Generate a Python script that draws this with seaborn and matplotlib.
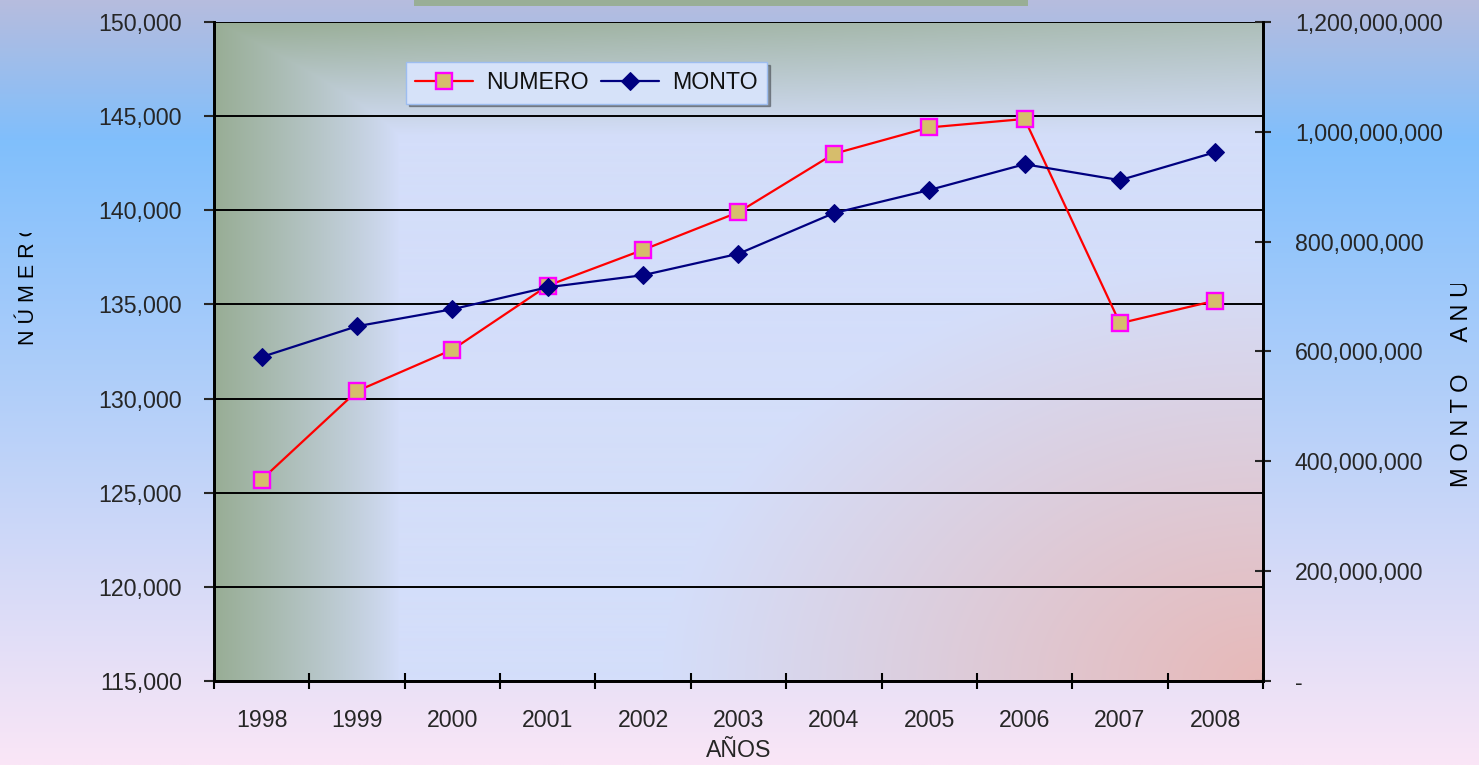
import numpy as np
import pandas as pd
import matplotlib
matplotlib.use("Agg")
import matplotlib.pyplot as plt
import seaborn as sns
from matplotlib.ticker import FuncFormatter, FixedLocator
from matplotlib.patches import Rectangle
from matplotlib.transforms import Bbox, TransformedBbox

# ---------------- data ----------------
years = [1998, 1999, 2000, 2001, 2002, 2003, 2004, 2005, 2006, 2007, 2008]
numero = [125700, 130400, 132600, 136000, 137900, 139900, 143000, 144400, 144850, 134000, 135200]
monto = [590e6, 646e6, 677e6, 717e6, 739e6, 778e6, 852e6, 894e6, 941e6, 912e6, 963e6]
left_ticks = [115000, 120000, 125000, 130000, 135000, 140000, 145000, 150000]
right_ticks = [0, 200e6, 400e6, 600e6, 800e6, 1000e6, 1200e6]
x_title = "AÑOS"
left_title = "N Ú M E R O"
right_title = "M O N T O     A N U A L"
series_names = ["NUMERO", "MONTO"]

df = pd.DataFrame({"year": years, "numero": numero, "monto": monto})

sns.set_style("ticks")
plt.rcParams["font.family"] = ["Liberation Sans", "DejaVu Sans"]

FS = 16.7
W_PX, H_PX = 1479, 765
fig = plt.figure(figsize=(W_PX / 100, H_PX / 100), dpi=100)

# ---------- figure background gradient ----------
bg_ax = fig.add_axes([0, 0, 1, 1])
bg_ax.set_zorder(-5)
yy = np.linspace(0, H_PX, 300)
stops_y = [0, 140, 765]
stops_c = np.array([[182, 188, 222], [128, 191, 252], [250, 230, 246]]) / 255
col = np.stack([np.interp(yy, stops_y, stops_c[:, i]) for i in range(3)], axis=-1)
bg_img = np.repeat(col[:, None, :], 4, axis=1)
bg_ax.imshow(bg_img, extent=[0, 1, 0, 1], aspect="auto", origin="upper")
bg_ax.set_axis_off()

# title box remnant at top
fig.patches.append(Rectangle((414 / W_PX, 1 - 6 / H_PX), (1028 - 414) / W_PX, 6 / H_PX,
                             transform=fig.transFigure, facecolor="#99ae96", edgecolor="none"))

# ---------- main axes ----------
L, R, T, B = 214, 1263, 22, 681
ax = fig.add_axes([L / W_PX, 1 - B / H_PX, (R - L) / W_PX, (B - T) / H_PX])
ax.set_zorder(1)
ax.patch.set_visible(False)

# plot-area gradient
PW, PH = R - L, B - T
xs = np.arange(PW)[None, :].astype(float)
ys = np.arange(PH)[:, None].astype(float)
base = np.array([212, 222, 250]) / 255
green = np.array([152, 173, 149]) / 255
pink = np.array([231, 185, 184]) / 255
wl = np.clip(1 - xs / 185, 0, 1) ** 0.85
wt = np.clip(1 - ys / 115, 0, 1) * (1 - 0.35 * xs / PW)
wg = np.maximum(wl, wt)[..., None]
img = base * (1 - wg) + green * wg
dist = np.sqrt(((PW - xs) / 600) ** 2 + ((PH - ys) / 420) ** 2)
wp = np.clip(1 - dist, 0, 1)[..., None]
img = img * (1 - wp) + pink * wp
ax.imshow(img, extent=[0, 1, 0, 1], transform=ax.transAxes, aspect="auto",
          origin="upper", zorder=0)

sns.lineplot(data=df, x="year", y="numero", ax=ax, color="#ff0000", lw=1.6,
             marker="s", markersize=11, markerfacecolor="#d6bd6c",
             markeredgecolor="#ff00ff", markeredgewidth=1.7, label=series_names[0],
             zorder=3)

ax2 = ax.twinx()
ax2.set_zorder(2)
ax2.patch.set_visible(False)
sns.lineplot(data=df, x="year", y="monto", ax=ax2, color="#000080", lw=1.6,
             marker="D", markersize=9, markerfacecolor="#000080",
             markeredgecolor="#000080", label=series_names[1], zorder=3)

# axes limits / ticks
ax.set_xlim(years[0] - 0.5, years[-1] + 0.5)
ax.set_ylim(left_ticks[0], left_ticks[-1])
ax2.set_ylim(right_ticks[0], right_ticks[-1])

ax.xaxis.set_major_locator(FixedLocator(years))
ax.xaxis.set_minor_locator(FixedLocator([y + 0.5 for y in [years[0] - 1] + years]))
ax.set_xticklabels([str(y) for y in years])
ax.tick_params(axis="x", which="major", length=0, pad=20, labelsize=FS)
ax.tick_params(axis="x", which="minor", direction="inout", length=12, width=1.5, color="black")

ax.yaxis.set_major_locator(FixedLocator(left_ticks))
ax.yaxis.set_major_formatter(FuncFormatter(lambda v, p: f"{v:,.0f}"))
ax.tick_params(axis="y", direction="out", length=7, width=1.5, pad=16, labelsize=FS)

ax2.yaxis.set_major_locator(FixedLocator(right_ticks))
ax2.yaxis.set_major_formatter(FuncFormatter(lambda v, p: "-" if v == 0 else f"{v:,.0f}"))
ax2.tick_params(axis="y", direction="inout", length=12, width=1.5, pad=17, labelsize=FS)

ax.grid(axis="y", color="black", lw=1.4)
ax.set_axisbelow(False)
for a in (ax, ax2):
    a.spines["top"].set_visible(False)
    for s in ("left", "right", "bottom"):
        a.spines[s].set_linewidth(2)
        a.spines[s].set_color("black")
ax.set_ylabel("")
ax2.set_ylabel("")
ax.set_xlabel(x_title, fontsize=FS)
ax.xaxis.set_label_coords(0.5, -0.106)
ax.xaxis.label.set_va("center")

# legends
h1, l1 = ax.get_legend_handles_labels()
h2, l2 = ax2.get_legend_handles_labels()
if ax.get_legend():
    ax.get_legend().remove()
if ax2.get_legend():
    ax2.get_legend().remove()
leg = ax2.legend(h1 + h2, l1 + l2, ncol=2, loc="upper left",
                 bbox_to_anchor=((406 - L) / PW, (B - 62) / PH), borderaxespad=0,
                 fontsize=FS, frameon=True, fancybox=False, shadow=True,
                 facecolor="#d6e2f9", edgecolor="#9dbdf0", framealpha=1,
                 handlelength=2.5, handletextpad=0.55, columnspacing=0.55,
                 borderpad=0.4)
leg.set_zorder(10)
for t in leg.get_texts():
    t.set_color("#111111")

# rotated, clipped axis titles
def fig_clip(y_top_px, y_bot_px):
    bb = Bbox([[0, 1 - y_bot_px / H_PX], [1, 1 - y_top_px / H_PX]])
    return TransformedBbox(bb, fig.transFigure)

t1 = fig.text(28 / W_PX, 1 - 345 / H_PX, left_title, rotation=90, ha="center", va="bottom",
              fontsize=15.5, color="black")
t1.set_clip_box(fig_clip(233, 765))
t1.set_clip_on(True)

t2 = fig.text(1462 / W_PX, 1 - 487 / H_PX, right_title, rotation=90, ha="center", va="bottom",
              fontsize=17, color="black")
t2.set_clip_box(fig_clip(284, 765))
t2.set_clip_on(True)

fig.savefig("out.png", dpi=100)
